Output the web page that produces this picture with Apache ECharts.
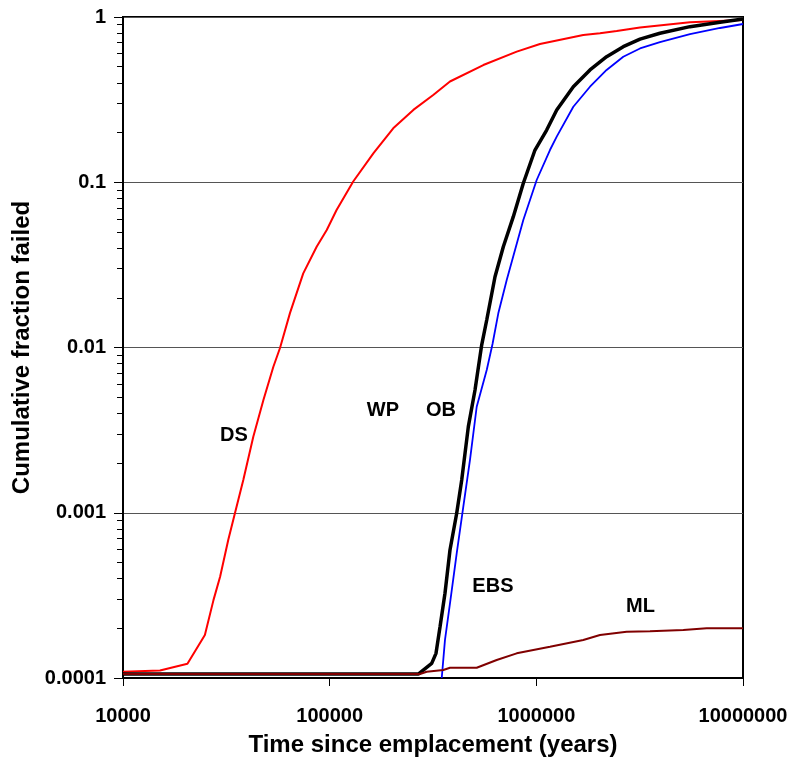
<!DOCTYPE html>
<html lang="en">
  <head>
    <meta charset="UTF-8" />
    <title>Cumulative fraction failed</title>
    <script src="https://cdn.jsdelivr.net/npm/echarts@6/dist/echarts.min.js"></script>
    <style>
      html, body { margin: 0; padding: 0; background: #fff; }
      #main { width: 794px; height: 757px; }
    </style>
  </head>
  <body>
    <div id="main"></div>
    <script>
      // time since emplacement (years) and cumulative fraction failed
      var dsTime = [10000, 15100, 20500, 24900, 27400, 29500, 32300, 34800, 38200, 42700, 47800, 53400, 57500, 64300, 74500, 86500, 96800, 108000, 130000, 163000, 203000, 254000, 317000, 382000, 554000, 804000, 1041000, 1687000, 2032000, 2448000, 3174000, 5540000, 10000000];
      var dsFrac = [0.000109, 0.000111, 0.000122, 0.000182, 0.000296, 0.00041, 0.000684, 0.000993, 0.00158, 0.00288, 0.00481, 0.00765, 0.00993, 0.0162, 0.0281, 0.0407, 0.0514, 0.0679, 0.101, 0.150, 0.212, 0.274, 0.337, 0.407, 0.512, 0.617, 0.686, 0.778, 0.797, 0.823, 0.865, 0.929, 0.959];

      var wpTime = [10000, 268400, 311700, 327000, 342000, 361400, 382100, 411800, 435500, 468800, 505000, 543900, 575400, 631000, 692200, 773800, 864900, 985000, 1122000, 1255000, 1510000, 1818000, 2188000, 2634000, 3174000, 3963000, 5540000, 7745000, 10000000];
      var wpFrac = [0.0001057, 0.0001057, 0.0001227, 0.000141, 0.000204, 0.000326, 0.000595, 0.000993, 0.00158, 0.00332, 0.00553, 0.01035, 0.01467, 0.0268, 0.0407, 0.0619, 0.0986, 0.1567, 0.207, 0.2736, 0.3786, 0.478, 0.575, 0.661, 0.735, 0.797, 0.874, 0.929, 0.972];

      var ebsTime = [348600, 361400, 382100, 411800, 443300, 477500, 514600, 575400, 613800, 654600, 719000, 864900, 1004000, 1164000, 1255000, 1510000, 1818000, 2188000, 2634000, 3174000, 3963000, 5540000, 7745000, 10000000];
      var ebsFrac = [0.0001, 0.00017, 0.000283, 0.000568, 0.00109, 0.00209, 0.00438, 0.00731, 0.0105, 0.0161, 0.0256, 0.0591, 0.1032, 0.1567, 0.1887, 0.2865, 0.3786, 0.478, 0.575, 0.645, 0.705, 0.789, 0.858, 0.907];

      var mlTime = [10000, 273500, 294800, 354800, 382100, 514600, 643000, 803500, 1164000, 1687000, 2032000, 2736000, 3548000, 5142000, 6670000, 10000000];
      var mlFrac = [0.0001057, 0.0001057, 0.0001092, 0.0001117, 0.0001154, 0.0001154, 0.0001285, 0.000141, 0.0001546, 0.00017, 0.000182, 0.0001905, 0.000192, 0.000195, 0.0002, 0.0002];

      // curve labels and where they sit (data coordinates)
      var labelNames = ['DS', 'WP', 'OB', 'EBS', 'ML'];
      var labelTime = [34440, 181100, 345700, 616600, 3192000];
      var labelFrac = [0.002955, 0.00418, 0.00418, 0.000356, 0.000269];

      var xTickLabels = ['10000', '100000', '1000000', '10000000'];
      var yTickLabels = ['0.0001', '0.001', '0.01', '0.1', '1'];
      var yDecades = [0.0001, 0.001, 0.01, 0.1];
      var minorSteps = [2, 3, 4, 5, 6, 7, 8, 9];

      function zip(a, b) {
        return a.map(function (v, i) { return [v, b[i]]; });
      }

      var minorTicks = [];
      yDecades.forEach(function (d) {
        minorSteps.forEach(function (m) { minorTicks.push(+(d * m).toPrecision(3)); });
      });

      var fontFamily = 'Arial, "Liberation Sans", sans-serif';

      var myChart = echarts.init(document.getElementById('main'));

      var option = {
        animation: false,
        backgroundColor: '#ffffff',
        textStyle: { fontFamily: fontFamily },
        grid: {
          left: 123, right: 51, top: 17, bottom: 79,
          outerBoundsMode: 'none',
          show: true,
          borderColor: '#000',
          borderWidth: 2,
          backgroundColor: 'transparent'
        },
        xAxis: {
          type: 'log',
          logBase: 10,
          min: 10000,
          max: 10000000,
          name: 'Time since emplacement (years)',
          nameLocation: 'middle',
          nameGap: 55,
          nameTextStyle: { fontSize: 24, fontWeight: 'bold', color: '#000', fontFamily: fontFamily },
          axisLine: { lineStyle: { color: '#000', width: 2 } },
          axisTick: { length: 8, lineStyle: { color: '#000', width: 1 } },
          axisLabel: {
            margin: 28,
            fontSize: 20,
            fontWeight: 'bold',
            color: '#000',
            formatter: function (v) {
              return xTickLabels[Math.round(Math.log10(v)) - 4];
            }
          },
          splitLine: { show: false }
        },
        yAxis: [{
          type: 'log',
          logBase: 10,
          min: 0.0001,
          max: 1,
          name: 'Cumulative fraction failed',
          nameLocation: 'middle',
          nameGap: 80,
          nameTextStyle: { fontSize: 24, fontWeight: 'bold', color: '#000', fontFamily: fontFamily },
          axisLine: { show: true, lineStyle: { color: '#000', width: 2 } },
          axisTick: { show: true, length: 9, lineStyle: { color: '#000', width: 1 } },
          axisLabel: {
            margin: 17,
            fontSize: 20,
            fontWeight: 'bold',
            color: '#000',
            formatter: function (v) {
              return yTickLabels[Math.round(Math.log10(v)) + 4];
            }
          },
          splitLine: { show: true, lineStyle: { color: '#555', width: 1 } }
        }, {
          type: 'log',
          logBase: 10,
          min: 0.0001,
          max: 1,
          position: 'left',
          axisLine: { show: false },
          axisLabel: { show: false },
          splitLine: { show: false },
          axisTick: {
            show: true,
            length: 6,
            customValues: minorTicks,
            lineStyle: { color: '#000', width: 1 }
          }
        }],
        series: [{
          name: 'DS',
          type: 'line',
          showSymbol: false,
          data: zip(dsTime, dsFrac),
          lineStyle: { color: '#ff0000', width: 2 },
          itemStyle: { color: '#ff0000' },
          z: 2
        }, {
          name: 'EBS',
          type: 'line',
          showSymbol: false,
          data: zip(ebsTime, ebsFrac),
          lineStyle: { color: '#0000ff', width: 1.8 },
          itemStyle: { color: '#0000ff' },
          z: 3
        }, {
          name: 'WP/OB',
          type: 'line',
          showSymbol: false,
          data: zip(wpTime, wpFrac),
          lineStyle: { color: '#000000', width: 3.5 },
          itemStyle: { color: '#000000' },
          z: 4
        }, {
          name: 'ML',
          type: 'line',
          showSymbol: false,
          data: zip(mlTime, mlFrac),
          lineStyle: { color: '#800000', width: 2 },
          itemStyle: { color: '#800000' },
          z: 5
        }, {
          name: 'labels',
          type: 'scatter',
          symbolSize: 1,
          itemStyle: { color: '#ffffff', opacity: 1 },
          data: labelNames.map(function (n, i) {
            return { name: n, value: [labelTime[i], labelFrac[i]] };
          }),
          label: {
            show: true,
            position: 'inside',
            formatter: '{b}',
            fontSize: 20,
            fontWeight: 'bold',
            color: '#000',
            opacity: 1,
            textBorderWidth: 0,
            fontFamily: fontFamily
          },
          z: 6
        }]
      };

      myChart.setOption(option);
    </script>
  </body>
</html>
